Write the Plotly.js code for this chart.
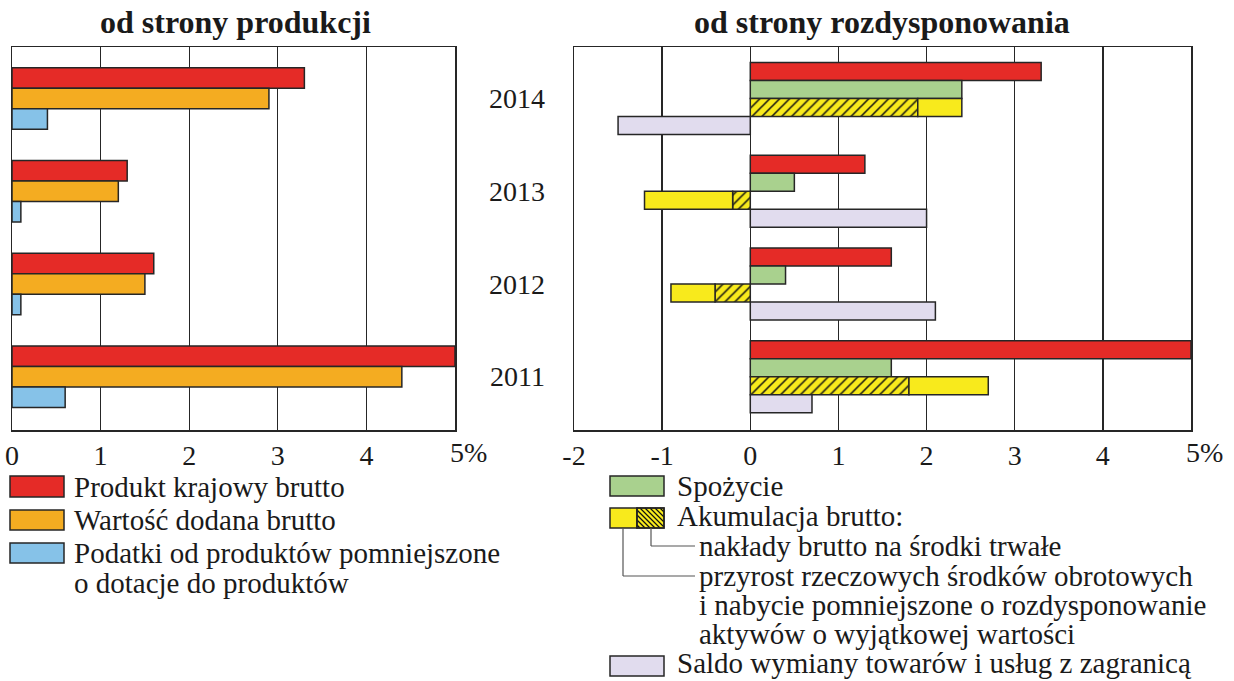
<!DOCTYPE html>
<html>
<head>
<meta charset="utf-8">
<script src="https://cdn.plot.ly/plotly-3.0.1.min.js"></script>
<style>html,body{margin:0;padding:0;background:#fff;}#chart{width:1234px;height:681px;}</style>
</head>
<body>
<div id="chart"></div>
<script>
// ---- data ----
const years = ['2014', '2013', '2012', '2011'];
const yearOrder = ['2011', '2012', '2013', '2014'];
const pkb = [3.3, 1.3, 1.6, 5.0];          // Produkt krajowy brutto
const wdb = [2.9, 1.2, 1.5, 4.4];          // Wartość dodana brutto
const podatki = [0.4, 0.1, 0.1, 0.6];      // Podatki od produktów pomniejszone o dotacje
const spozycie = [2.4, 0.5, 0.4, 1.6];     // Spożycie
const naklady = [1.9, -0.2, -0.4, 1.8];    // nakłady brutto na środki trwałe
const przyrost = [0.5, -1.0, -0.5, 0.9];   // przyrost rzeczowych środków obrotowych
const saldo = [-1.5, 2.0, 2.1, 0.7];       // Saldo wymiany towarów i usług
const leftTicks = [0, 1, 2, 3, 4];
const leftTickText = ['0', '1', '2', '3', '4'];
const rightTicks = [-2, -1, 0, 1, 2, 3, 4];
const rightTickText = ['-2', '-1', '0', '1', '2', '3', '4'];
const endLabel = '5%';

// ---- styles ----
const W = 1234, H = 681;
const px = v => v / W;
const py = v => 1 - v / H;
const FONT = "'Liberation Serif', 'Times New Roman', serif";
const TXT = '#1a1a1a';
const EDGE = '#262626';
const C = {red: '#e52b27', orange: '#f4ac21', blue: '#86c2e8', green: '#a9d18e', yellow: '#f8ea1c', lav: '#e1dcee'};
const line = {color: EDGE, width: 1.5};

function hbar(x, color, offset, width, xa, ya, extra) {
  return Object.assign({
    type: 'bar', orientation: 'h', x: x, y: years,
    offset: offset, width: width, xaxis: xa, yaxis: ya,
    marker: {color: color, line: line}, hoverinfo: 'x+y', showlegend: false
  }, extra || {});
}
const wl = 0.221, wr = 0.194;
const traces = [
  hbar(pkb, C.red, wl * 0.5, wl, 'x', 'y'),
  hbar(wdb, C.orange, -wl * 0.5, wl, 'x', 'y'),
  hbar(podatki, C.blue, -wl * 1.5, wl, 'x', 'y'),
  hbar(pkb, C.red, wr, wr, 'x2', 'y2'),
  hbar(spozycie, C.green, 0, wr, 'x2', 'y2'),
  hbar(naklady, C.yellow, -wr, wr, 'x2', 'y2', {
    marker: {color: C.yellow, line: line,
      pattern: {shape: '/', bgcolor: C.yellow, fgcolor: '#111', size: 7, solidity: 0.22}}
  }),
  hbar(przyrost, C.yellow, -wr, wr, 'x2', 'y2', {base: naklady}),
  hbar(saldo, C.lav, -2 * wr, wr, 'x2', 'y2')
];

const yDom = [py(430), py(47)];
const yRange = [-0.575, 3.555];
const tickFont = {family: FONT, size: 28, color: TXT};
const LF = 29;
const layout = {
  width: W, height: H,
  margin: {l: 0, r: 0, t: 0, b: 0},
  paper_bgcolor: '#fff', plot_bgcolor: '#fff',
  barmode: 'overlay', showlegend: false,
  font: {family: FONT, color: TXT},
  xaxis: {domain: [px(12), px(455)], range: [0, 5], anchor: 'y',
    tickmode: 'array', tickvals: leftTicks, ticktext: leftTickText, tickfont: tickFont,
    showgrid: true, gridcolor: EDGE, gridwidth: 1.3, zeroline: false,
    showline: true, mirror: true, linecolor: EDGE, linewidth: 1.5, ticks: ''},
  yaxis: {domain: yDom, range: yRange, anchor: 'x', type: 'category',
    categoryorder: 'array', categoryarray: yearOrder,
    showticklabels: false, showgrid: false, zeroline: false,
    showline: true, mirror: true, linecolor: EDGE, linewidth: 1.5, ticks: ''},
  xaxis2: {domain: [px(574), px(1191)], range: [-2, 5], anchor: 'y2',
    tickmode: 'array', tickvals: rightTicks, ticktext: rightTickText, tickfont: tickFont,
    showgrid: true, gridcolor: EDGE, gridwidth: 1.3, zeroline: false,
    showline: true, mirror: true, linecolor: EDGE, linewidth: 1.5, ticks: ''},
  yaxis2: {domain: yDom, range: yRange, anchor: 'x2', type: 'category',
    categoryorder: 'array', categoryarray: yearOrder,
    tickfont: tickFont, ticks: 'outside', ticklen: 22, tickcolor: 'rgba(0,0,0,0)',
    showgrid: false, zeroline: false,
    showline: true, mirror: true, linecolor: EDGE, linewidth: 1.5},
  annotations: [],
  shapes: []
};

const A = layout.annotations, S = layout.shapes;
function txt(text, x, y, opts) {
  A.push(Object.assign({text: text, x: px(x), y: py(y), xref: 'paper', yref: 'paper',
    xanchor: 'left', yanchor: 'middle', showarrow: false,
    font: {family: FONT, size: LF, color: TXT}}, opts || {}));
}
// titles
txt('<b>od strony produkcji</b>', 235, 22, {xanchor: 'center', font: {family: FONT, size: 32, color: TXT}});
txt('<b>od strony rozdysponowania</b>', 882, 22, {xanchor: 'center', font: {family: FONT, size: 32, color: TXT}});
// "5%" end labels
A.push({text: endLabel, x: 5, xref: 'x', y: py(452), yref: 'paper', xanchor: 'left', xshift: -7,
  yanchor: 'middle', showarrow: false, font: tickFont});
A.push({text: endLabel, x: 5, xref: 'x2', y: py(452), yref: 'paper', xanchor: 'left', xshift: -7,
  yanchor: 'middle', showarrow: false, font: tickFont});

function box(x0, y0, x1, y1, fill) {
  S.push({type: 'rect', xref: 'paper', yref: 'paper', x0: px(x0), x1: px(x1), y0: py(y1), y1: py(y0),
    fillcolor: fill, line: {color: EDGE, width: 1.5}});
}
function seg(x0, y0, x1, y1, color, w) {
  S.push({type: 'line', xref: 'paper', yref: 'paper', x0: px(x0), y0: py(y0), x1: px(x1), y1: py(y1),
    line: {color: color || EDGE, width: w || 1.5}});
}
// left legend
box(10, 476, 64, 497, C.red);      txt('Produkt krajowy brutto', 72, 487);
box(10, 510, 64, 530, C.orange);   txt('Wartość dodana brutto', 72, 520);
box(10, 543, 64, 563, C.blue);     txt('Podatki od produktów pomniejszone', 72, 553);
txt('o dotacje do produktów', 72, 583);
// right legend
box(610, 476, 664, 496, C.green);  txt('Spożycie', 675, 486);
box(610, 508, 637, 528, C.yellow);
box(637, 508, 664, 528, C.yellow);
// hatch '\' in icon
(function () {
  const x0 = 637, x1 = 664, y0 = 508, y1 = 528;
  for (let c = x0 - y1 + 3; c < x1 - y0; c += 5) {
    const xa = Math.max(x0, c + y0), xb = Math.min(x1, c + y1);
    if (xb - xa < 1) continue;
    seg(xa, xa - c, xb, xb - c, '#111', 1.2);
  }
})();
box(637, 508, 664, 528, 'rgba(0,0,0,0)');
txt('Akumulacja brutto:', 675, 516);
seg(651, 528, 651, 546, '#555', 1.2); seg(651, 546, 695, 546, '#555', 1.2);
txt('nakłady brutto na środki trwałe', 697, 546);
seg(623, 528, 623, 576, '#555', 1.2); seg(623, 576, 695, 576, '#555', 1.2);
txt('przyrost rzeczowych środków obrotowych', 697, 576);
txt('i nabycie pomniejszone o rozdysponowanie', 697, 605);
txt('aktywów o wyjątkowej wartości', 697, 634);
box(610, 656, 664, 676, C.lav);
txt('Saldo wymiany towarów i usług z zagranicą', 675, 0, {y: 0, yanchor: 'bottom'});

Plotly.newPlot('chart', traces, layout, {displayModeBar: false, staticPlot: true});
</script>
</body>
</html>
